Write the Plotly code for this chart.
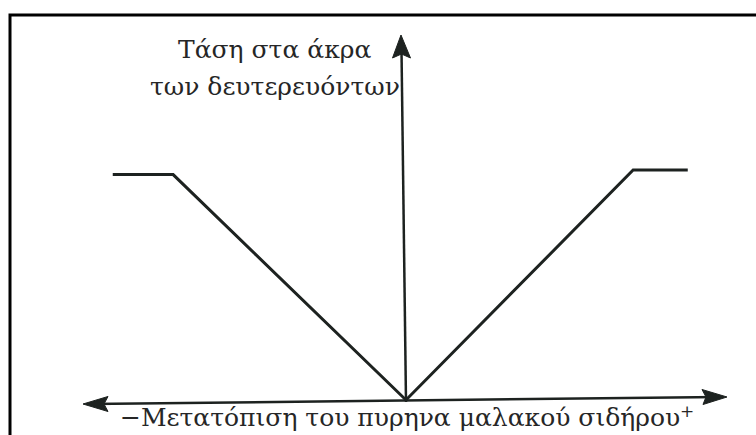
import plotly.graph_objects as go

# Output voltage of the secondaries vs. core displacement (LVDT characteristic)
displacement = [-5.1, -4.05, 0.0, 3.95, 4.9]
voltage = [9.8, 9.8, 0.0, 10.0, 10.0]

y_title_lines = ["Τάση στα άκρα", "των δευτερευόντων"]
x_title = "−Μετατόπιση του πυρηνα μαλακού σιδήρου"
x_plus = "+"

W, H = 756, 435
INK = "#1d2220"
TEXT = "#262626"
FONT = "DejaVu Serif"


def px(x):
    return x / W


def py(y):
    return 1 - y / H


# axis origin on the page and scale (pixels per unit)
ox, oy = 406, 400
sx, sy = 57.5, 23.0

fig = go.Figure()
fig.add_trace(go.Scatter(
    x=displacement, y=voltage, mode="lines",
    line=dict(color=INK, width=3), hoverinfo="skip", showlegend=False,
))

shapes = []
# frame
shapes.append(dict(type="rect", xref="paper", yref="paper",
                   x0=px(10), y0=py(15), x1=px(800), y1=py(480),
                   line=dict(color="black", width=3)))
# horizontal axis
shapes.append(dict(type="line", xref="paper", yref="paper",
                   x0=px(90), y0=py(404), x1=px(720), y1=py(397),
                   line=dict(color=INK, width=2.5)))
# vertical axis
shapes.append(dict(type="line", xref="paper", yref="paper",
                   x0=px(ox), y0=py(oy + 2), x1=px(401.5), y1=py(50),
                   line=dict(color=INK, width=2.5)))


def head(points):
    d = "M " + " L ".join(f"{px(a):.5f},{py(b):.5f}" for a, b in points) + " Z"
    return dict(type="path", xref="paper", yref="paper", path=d,
                fillcolor=INK, line=dict(color=INK, width=1))


shapes.append(head([(401, 35), (410.5, 58), (401.5, 54), (392.5, 58)]))
shapes.append(head([(83, 404), (108, 396.5), (104, 404), (108, 411.5)]))
shapes.append(head([(727, 397), (702, 389.5), (706, 397), (703, 404.5)]))

annotations = [
    dict(text=y_title_lines[0], xref="paper", yref="paper", x=px(274), y=py(49),
         xanchor="center", yanchor="middle", showarrow=False,
         font=dict(family=FONT, size=25, color=TEXT)),
    dict(text=y_title_lines[1], xref="paper", yref="paper", x=px(275), y=py(86),
         xanchor="center", yanchor="middle", showarrow=False,
         font=dict(family=FONT, size=25, color=TEXT)),
    dict(text=x_title, xref="paper", yref="paper", x=px(118), y=py(417),
         xanchor="left", yanchor="middle", showarrow=False,
         font=dict(family=FONT, size=25, color=TEXT)),
    dict(text=x_plus, xref="paper", yref="paper", x=px(678), y=py(411),
         xanchor="left", yanchor="middle", showarrow=False,
         font=dict(family=FONT, size=17, color=TEXT)),
]

fig.update_layout(
    width=W, height=H,
    margin=dict(l=0, r=0, t=0, b=0),
    paper_bgcolor="white", plot_bgcolor="rgba(0,0,0,0)",
    xaxis=dict(range=[-ox / sx, (W - ox) / sx], visible=False, fixedrange=True),
    yaxis=dict(range=[(oy - H) / sy, oy / sy], visible=False, fixedrange=True),
    shapes=shapes, annotations=annotations,
)

fig.write_html("out.html")
